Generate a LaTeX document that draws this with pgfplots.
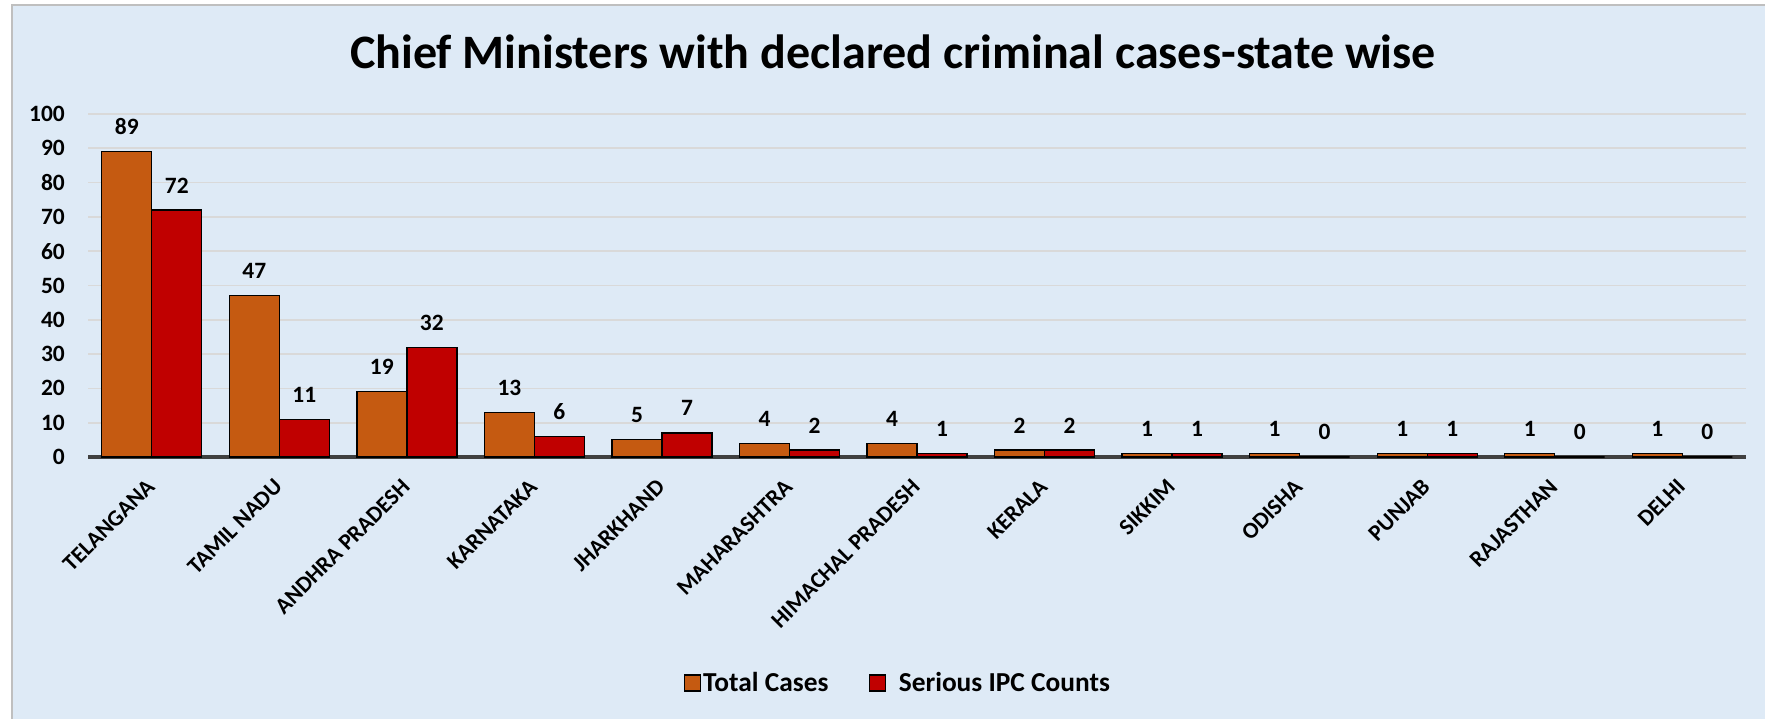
\documentclass[border=0pt]{standalone}
\usepackage{fontspec}
\setmainfont{Carlito}
\usepackage{pgfplots}
\pgfplotsset{compat=1.18}
\definecolor{bg}{RGB}{222,234,246}
\definecolor{bordergray}{RGB}{191,191,191}
\definecolor{gridgray}{RGB}{217,217,217}
\definecolor{axisgray}{RGB}{64,64,64}
\definecolor{totc}{RGB}{197,90,17}
\definecolor{serc}{RGB}{192,0,0}
\pgfplotsset{mylegend/.style={legend image code/.code={\draw[##1,draw=black,line width=1.3bp] (0bp,-8bp) rectangle (16bp,8bp);}}}
\begin{document}
\begin{tikzpicture}[x=1bp,y=1bp]
\useasboundingbox (0,0) rectangle (1765,719);
\fill[white] (0,0) rectangle (1765,719);
\fill[bg] (12,-5) rectangle (1770,714);
\draw[bordergray, line width=1.5bp] (12,-5) -- (12,714) -- (1770,714);
\node[font=\fontsize{48.2}{55}\selectfont\bfseries, anchor=base, inner sep=0pt] at (893,650) {Chief Ministers with declared criminal cases-state wise};
\begin{axis}[
  at={(88bp,262bp)}, anchor=south west,
  scale only axis, width=1658bp, height=343bp,
  xmin=-0.5, xmax=12.5, ymin=0, ymax=100,
  enlargelimits=false, clip=false,
  ybar=0pt, bar width=50bp,
  /pgf/number format/assume math mode=true,
  axis lines*=left,
  y axis line style={draw=none},
  x axis line style={line width=3.5bp, draw=axisgray},
  major tick length=0pt,
  tick style={draw=none},
  ymajorgrids, grid style={draw=gridgray, line width=1.7bp},
  ytick={0,10,...,100},
  yticklabel style={font=\fontsize{23.5}{27}\selectfont\bfseries, inner sep=0pt, anchor=east, xshift=-23bp},
  xtick={0,...,12},
  xticklabels={TELANGANA,TAMIL NADU,ANDHRA PRADESH,KARNATAKA,JHARKHAND,MAHARASHTRA,HIMACHAL PRADESH,KERALA,SIKKIM,ODISHA,PUNJAB,RAJASTHAN,DELHI},
  xticklabel style={font=\fontsize{23}{27}\selectfont\bfseries, inner sep=0pt, xshift=-1bp, yshift=-26bp, rotate=45, anchor=east},
  nodes near coords,
  every node near coord/.append style={font=\fontsize{23.5}{27}\selectfont\bfseries, anchor=base, yshift=17bp, black},
  legend columns=2,
  legend style={at={(axis description cs:0.4885,-0.659)}, anchor=center, draw=none, fill=none,
    font=\fontsize{27.5}{32}\selectfont\bfseries,
    /tikz/every even column/.append style={column sep=38bp}},
]
\addplot[fill=totc, draw=black, line width=1.3bp, mylegend] coordinates {(0,89) (1,47) (2,19) (3,13) (4,5) (5,4) (6,4) (7,2) (8,1) (9,1) (10,1) (11,1) (12,1)};
\addplot[fill=serc, draw=black, line width=1.3bp, mylegend] coordinates {(0,72) (1,11) (2,32) (3,6) (4,7) (5,2) (6,1) (7,2) (8,1) (9,0) (10,1) (11,0) (12,0)};
\legend{Total Cases,\hspace{11bp}Serious IPC Counts}
\end{axis}
\end{tikzpicture}
\end{document}
